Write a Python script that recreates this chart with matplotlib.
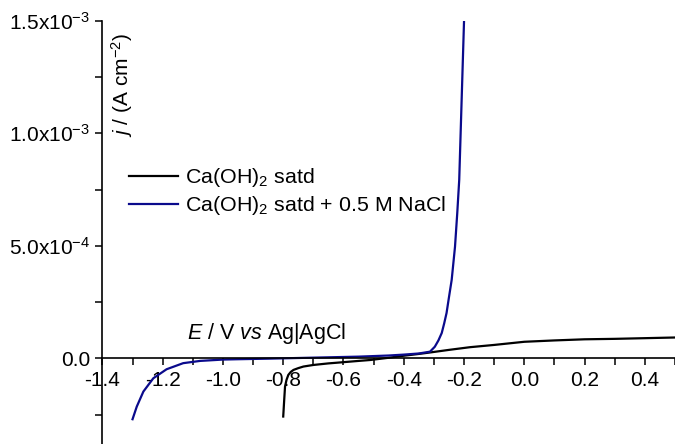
import numpy as np
import matplotlib
matplotlib.use("Agg")
import matplotlib.pyplot as plt
from matplotlib.ticker import FixedLocator, FixedFormatter, MultipleLocator

plt.rcParams['font.family'] = ['Liberation Sans', 'DejaVu Sans']
plt.rcParams['mathtext.fontset'] = 'custom'
plt.rcParams['mathtext.rm'] = 'Liberation Sans'
plt.rcParams['mathtext.it'] = 'Liberation Sans:italic'
plt.rcParams['axes.unicode_minus'] = False

# polarisation curve in saturated Ca(OH)2
e_satd = [-0.800, -0.797, -0.794, -0.789, -0.783, -0.775, -0.766, -0.750, -0.733,
          -0.700, -0.650, -0.622, -0.550, -0.512, -0.450, -0.400, -0.350, -0.310,
          -0.250, -0.180, -0.100, -0.050, 0.000, 0.100, 0.200, 0.300, 0.400, 0.500]
j_satd = [-2.58, -1.90, -1.25, -0.95, -0.73, -0.60, -0.51, -0.43, -0.36,
          -0.29, -0.22, -0.19, -0.11, -0.07, 0.03, 0.12, 0.20, 0.27,
          0.38, 0.50, 0.60, 0.67, 0.74, 0.80, 0.85, 0.87, 0.90, 0.93]

# same solution with 0.5 M NaCl added
e_nacl = [-1.300, -1.286, -1.264, -1.231, -1.187, -1.132, -1.076, -1.000, -0.950,
          -0.850, -0.750, -0.650, -0.550, -0.450, -0.400, -0.350, -0.313, -0.297,
          -0.285, -0.274, -0.266, -0.258, -0.250, -0.241, -0.230, -0.2225, -0.216,
          -0.200]
j_nacl = [-2.70, -2.14, -1.47, -0.88, -0.48, -0.21, -0.11, -0.05, -0.035,
          -0.01, 0.02, 0.05, 0.08, 0.13, 0.17, 0.22, 0.30, 0.52,
          0.80, 1.13, 1.55, 2.02, 2.72, 3.49, 4.96, 6.46, 7.93,
          15.0]

x_major = [-1.4, -1.2, -1.0, -0.8, -0.6, -0.4, -0.2, 0.0, 0.2, 0.4]
x_labels = ['-1.4', '-1.2', '-1.0', '-0.8', '-0.6', '-0.4', '-0.2', '0.0', '0.2', '0.4']
y_major = [0.0, 5.0e-4, 1.0e-3, 1.5e-3]
y_labels = ['0.0', r'5.0x10$^{-4}$', r'1.0x10$^{-3}$', r'1.5x10$^{-3}$']
y_minor = [-2.5e-4, 2.5e-4, 7.5e-4, 1.25e-3]

W, H = 675, 444
fig = plt.figure(figsize=(W / 100, H / 100), dpi=100)
left, top = 102.4, 20.7
ax = fig.add_axes([left / W, 0, 1 - left / W, 1 - top / H])

ax.plot(e_satd, np.array(j_satd) * 1e-4, color='black', lw=1.6, label=r'Ca(OH)$_2$ satd')
ax.plot(e_nacl, np.array(j_nacl) * 1e-4, color='#0a0a8c', lw=1.6,
        label=r'Ca(OH)$_2$ satd + 0.5 M NaCl')

ax.set_xlim(-1.4, 0.5)
ax.set_ylim(-3.8e-4, 1.5e-3)

for s in ['top', 'right']:
    ax.spines[s].set_visible(False)
ax.spines['bottom'].set_position(('data', 0))
ax.spines['left'].set_linewidth(1.2)
ax.spines['bottom'].set_linewidth(1.2)

ax.xaxis.set_major_locator(FixedLocator(x_major))
ax.xaxis.set_major_formatter(FixedFormatter(x_labels))
ax.xaxis.set_minor_locator(MultipleLocator(0.1))
ax.yaxis.set_major_locator(FixedLocator(y_major))
ax.yaxis.set_major_formatter(FixedFormatter(y_labels))
ax.yaxis.set_minor_locator(FixedLocator(y_minor))

ax.tick_params(which='both', direction='out', length=5, width=1.1)
ax.tick_params(axis='both', labelsize=15, pad=4)

fig.text(122 / W, 1 - 85 / H, r'$\it{j}$ / (A cm$^{-2}$)', rotation=90,
         ha='center', va='center', fontsize=15)
fig.text(267 / W, 1 - 333 / H, r'$\it{E}$ / V $\it{vs}$ Ag|AgCl',
         ha='center', va='center', fontsize=15.5)

ax.legend(loc='upper left', bbox_to_anchor=(129 / W, 1 - 166 / H),
          bbox_transform=fig.transFigure, frameon=False, fontsize=15.4,
          handlelength=2.3, handletextpad=0.3, labelspacing=0.25,
          borderpad=0, borderaxespad=0)

fig.savefig('out.png', dpi=100)
